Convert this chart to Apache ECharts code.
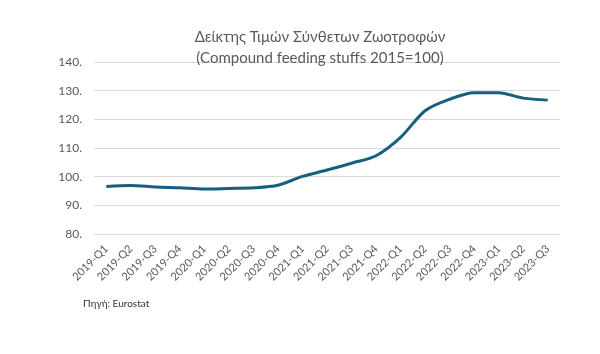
<!DOCTYPE html>
<html>
<head>
<meta charset="utf-8">
<script src="https://cdn.jsdelivr.net/npm/echarts@6/dist/echarts.min.js"></script>
<style>
  html, body { margin: 0; padding: 0; background: #fff; }
  #chart { width: 600px; height: 354px; }
</style>
</head>
<body>
<div id="chart"></div>
<script>
// quarters
var quarters = ['2019-Q1','2019-Q2','2019-Q3','2019-Q4','2020-Q1','2020-Q2','2020-Q3','2020-Q4',
  '2021-Q1','2021-Q2','2021-Q3','2021-Q4','2022-Q1','2022-Q2','2022-Q3','2022-Q4',
  '2023-Q1','2023-Q2','2023-Q3'];
// index values (2015=100)
var indexValues = [96.6, 96.9, 96.4, 96.1, 95.7, 95.9, 96.1, 97.0,
  100.1, 102.3, 104.7, 107.3, 113.7, 123.0, 127.0, 129.3,
  129.3, 127.4, 126.7];
var yTicks = [80, 90, 100, 110, 120, 130, 140];

var chart = echarts.init(document.getElementById('chart'));

var option = {
  backgroundColor: '#fff',
  animation: false,
  title: {
    text: 'Δείκτης Τιμών Σύνθετων Ζωοτροφών\n(Compound feeding stuffs 2015=100)',
    left: 315,
    textAlign: 'center',
    top: 22,
    textStyle: {
      fontFamily: 'Lato, "Noto Sans", sans-serif',
      fontWeight: 'normal',
      fontSize: 15,
      color: '#595959',
      lineHeight: 21
    }
  },
  graphic: [{
    type: 'text',
    left: 83,
    top: 299,
    style: {
      text: 'Πηγή: Eurostat',
      font: '10px Lato, "Noto Sans", sans-serif',
      fill: '#333'
    }
  }],
  grid: { left: 94, right: 40, top: 62, bottom: 120 },
  xAxis: {
    type: 'category',
    data: quarters,
    boundaryGap: true,
    axisLine: { show: false },
    axisTick: { show: false },
    axisLabel: {
      rotate: 45,
      interval: 0,
      margin: 13,
      color: '#595959',
      fontSize: 11,
      fontFamily: 'Lato, "Noto Sans", sans-serif'
    }
  },
  yAxis: {
    type: 'value',
    min: yTicks[0],
    max: yTicks[yTicks.length - 1],
    interval: 10,
    axisLine: { show: false },
    axisTick: { show: false },
    splitLine: { lineStyle: { color: '#d9d9d9', width: 1 } },
    axisLabel: {
      margin: 12,
      color: '#595959',
      fontSize: 12,
      fontFamily: 'Lato, "Noto Sans", sans-serif',
      formatter: function (v) { return v + '.'; }
    }
  },
  series: [{
    type: 'line',
    data: indexValues,
    smooth: 0.3,
    showSymbol: false,
    lineStyle: { color: '#165f80', width: 3 }
  }]
};

chart.setOption(option);
</script>
</body>
</html>
